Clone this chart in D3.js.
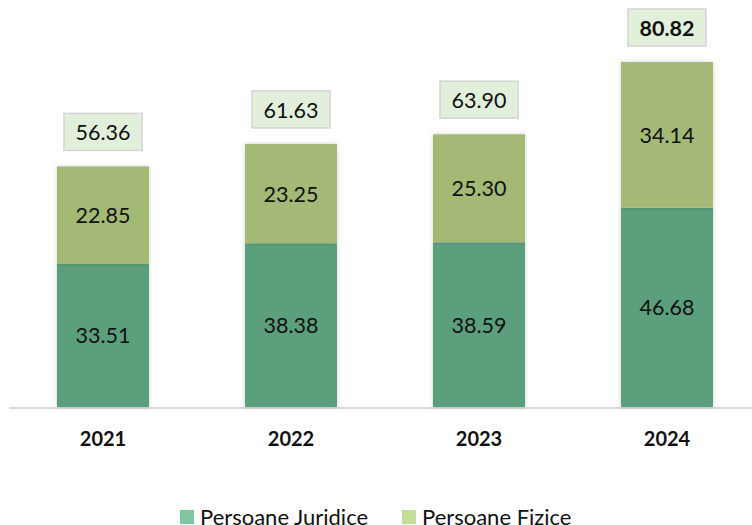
<!DOCTYPE html>
<html>
<head>
<meta charset="utf-8">
<script src="https://cdn.jsdelivr.net/npm/d3@7"></script>
<style>
  body { margin: 0; background: #fff; }
  svg { display: block; font-family: Lato, "Open Sans", sans-serif; }
</style>
</head>
<body>
<div id="chart"></div>
<script>
// data
const years = ["2021", "2022", "2023", "2024"];
const juridice = [33.51, 38.38, 38.59, 46.68];
const fizice = [22.85, 23.25, 25.30, 34.14];
const totals = [56.36, 61.63, 63.90, 80.82];
const seriesNames = ["Persoane Juridice", "Persoane Fizice"];

const width = 752, height = 525;
const baseY = 407;

const barColors = ["#5b9f7d", "#a3b975"];
const legendColors = ["#7fc7a1", "#c4de98"];

const svg = d3.select("#chart").append("svg")
  .attr("width", width).attr("height", height);

const defs = svg.append("defs");
const f = defs.append("filter").attr("id", "shadow")
  .attr("x", "-10%").attr("y", "-10%").attr("width", "120%").attr("height", "120%");
f.append("feDropShadow").attr("dx", 0).attr("dy", 0).attr("stdDeviation", 2)
  .attr("flood-color", "#000").attr("flood-opacity", 0.18);

const x = d3.scaleBand().domain(years).range([9, 761]).paddingInner(0.51).paddingOuter(0.255);
const y = d3.scaleLinear().domain([0, 80.82]).range([baseY, 62]);

const rows = years.map((yr, i) => ({ year: yr, juridice: juridice[i], fizice: fizice[i], total: totals[i] }));
const stack = d3.stack().keys(["juridice", "fizice"])(rows);

// axis line
svg.append("line")
  .attr("x1", 9).attr("x2", width).attr("y1", baseY + 1).attr("y2", baseY + 1)
  .attr("stroke", "#d9d9d9").attr("stroke-width", 2);

const groups = svg.selectAll("g.series")
  .data(stack)
  .join("g")
  .attr("class", "series")
  .attr("fill", (d, i) => barColors[i]);

groups.selectAll("rect")
  .data(d => d)
  .join("rect")
  .attr("x", d => x(d.data.year))
  .attr("y", d => y(d[1]))
  .attr("width", x.bandwidth())
  .attr("height", d => y(d[0]) - y(d[1]))
  .attr("filter", "url(#shadow)");

groups.selectAll("text")
  .data((d, i) => d.map(p => ({ p, v: i === 0 ? p.data.juridice : p.data.fizice })))
  .join("text")
  .attr("x", d => x(d.p.data.year) + x.bandwidth() / 2)
  .attr("y", d => (y(d.p[0]) + y(d.p[1])) / 2)
  .attr("text-anchor", "middle")
  .attr("dominant-baseline", "central")
  .attr("font-size", 21.5)
  .attr("fill", "#111")
  .text(d => d.v.toFixed(2));

// total labels
const tot = svg.selectAll("g.total")
  .data(rows)
  .join("g")
  .attr("class", "total")
  .attr("transform", d => `translate(${x(d.year) + x.bandwidth() / 2},${y(d.total) - 34})`);

tot.append("rect")
  .attr("x", -39).attr("y", -19).attr("width", 78).attr("height", 37)
  .attr("fill", "#e2efda").attr("stroke", "#d4d4d4").attr("stroke-width", 1.5);

tot.append("text")
  .attr("text-anchor", "middle")
  .attr("dominant-baseline", "central")
  .attr("font-size", 21.5)
  .attr("font-weight", (d, i) => i === rows.length - 1 ? "bold" : "normal")
  .attr("fill", "#111")
  .text(d => d.total.toFixed(2));

// year labels
svg.selectAll("text.year")
  .data(years)
  .join("text")
  .attr("class", "year")
  .attr("x", d => x(d) + x.bandwidth() / 2)
  .attr("y", 438)
  .attr("text-anchor", "middle")
  .attr("dominant-baseline", "central")
  .attr("font-size", 20)
  .attr("font-weight", "bold")
  .attr("fill", "#111")
  .text(d => d);

// legend
const legendX = [180, 402];
const leg = svg.selectAll("g.legend")
  .data(seriesNames)
  .join("g")
  .attr("class", "legend")
  .attr("transform", (d, i) => `translate(${legendX[i]},510)`);

leg.append("rect")
  .attr("width", 14).attr("height", 14)
  .attr("fill", (d, i) => legendColors[i]);

leg.append("text")
  .attr("x", 20).attr("y", 6)
  .attr("dominant-baseline", "central")
  .attr("font-size", 22)
  .attr("fill", "#111")
  .text(d => d);
</script>
</body>
</html>
